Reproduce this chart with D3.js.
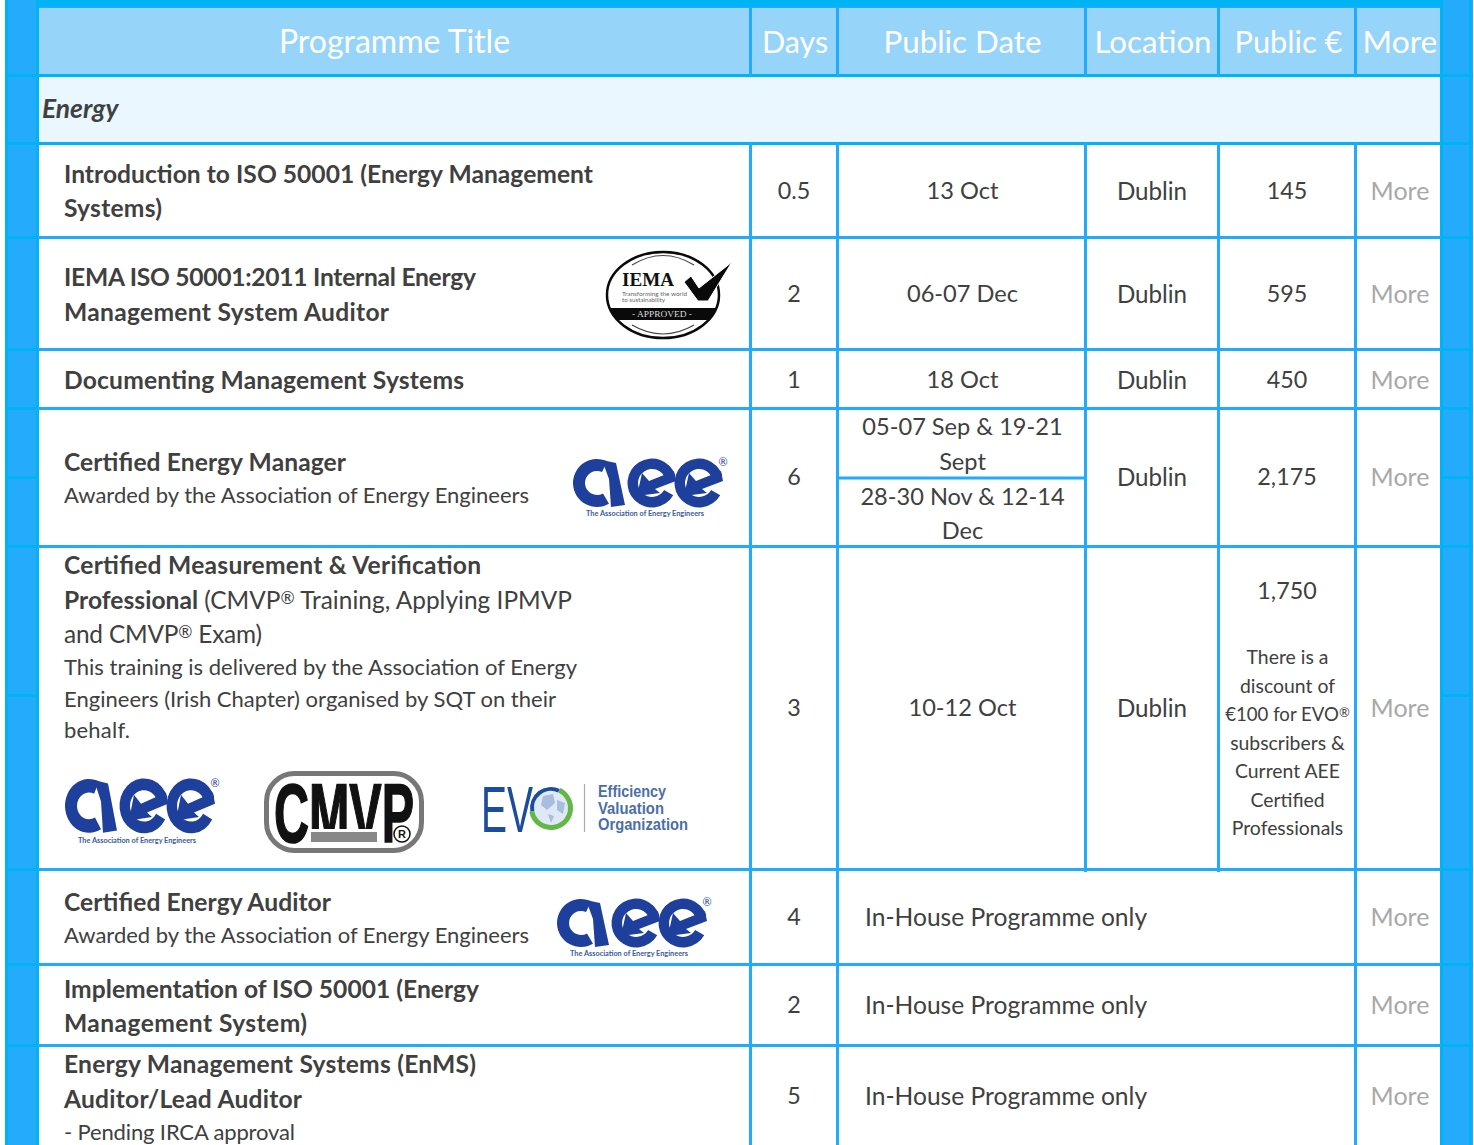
<!DOCTYPE html>
<html><head><meta charset="utf-8">
<script src="https://cdn.jsdelivr.net/npm/d3@7/dist/d3.min.js"></script>
<style>html,body{margin:0;padding:0;background:#fff;overflow:hidden}svg{display:block}text{font-family:Lato,sans-serif}</style>
</head><body><div id="c"></div>
<script>
// ---- data ----
const headers = ["Programme Title","Days","Public Date","Location","Public €","More"];
const category = "Energy";
const titles = [
 [[["b","Introduction to ISO 50001 (Energy Management"]],[["b","Systems)"]]],
 [[["b","IEMA ISO 50001:2011 Internal Energy"]],[["b","Management System Auditor"]]],
 [[["b","Documenting Management Systems"]]],
 [[["b","Certified Energy Manager"]],[["r","Awarded by the Association of Energy Engineers"]]],
 [[["b","Certified Measurement & Verification"]],[["b","Professional "],["r","(CMVP"],["s","®"],["r"," Training, Applying IPMVP"]],[["r","and CMVP"],["s","®"],["r"," Exam)"]],[["r","This training is delivered by the Association of Energy"]],[["r","Engineers (Irish Chapter) organised by SQT on their"]],[["r","behalf."]]],
 [[["b","Certified Energy Auditor"]],[["r","Awarded by the Association of Energy Engineers"]]],
 [[["b","Implementation of ISO 50001 (Energy"]],[["b","Management System)"]]],
 [[["b","Energy Management Systems (EnMS)"]],[["b","Auditor/Lead Auditor"]],[["r","- Pending IRCA approval"]]]
];
const days = ["0.5","2","1","6","3","4","2","5"];
const dates = ["13 Oct","06-07 Dec","18 Oct",null,"10-12 Oct",null,null,null];
const splitDates = ["05-07 Sep & 19-21","Sept","28-30 Nov & 12-14","Dec"];
const locations = ["Dublin","Dublin","Dublin","Dublin","Dublin"];
const fees = ["145","595","450","2,175","1,750"];
const feeNote = [["There is a"],["discount of"],["€100 for EVO","®"],["subscribers &"],["Current AEE"],["Certified"],["Professionals"]];
const inHouse = "In-House Programme only";
const moreLabel = "More";

// ---- layout ----
const W=1474,H=1145;
const LINE="#22aafd",STRIP="#00b3f5",FILL="#24abfc",INK="#404040";
const colEdges=[37.5,750.5,837.5,1085.5,1218.5,1355.5,1441.5];
const x=d3.scaleOrdinal(headers,[394.5,795,962.5,1153,1288.5,1400]);
const headerSize=d3.scaleOrdinal(headers,[32,30.5,31.3,31.2,30.8,31.8]);
const rowLines=[75.5,143.5,237.5,349.5,408.5,546.5,869.5,964.5,1045.5];
const stripOnly=[477.5,695.5];
const titleBase=[[183,217],[286,321],[389],[471,503],[574,609,643,675,707,738],[911,943],[998,1032],[1073,1108,1140]];
const titleEnd=[[593,162],[476,389],[464],[346,529],[481,572,262,577,556,130],[331,529],[479,307],[476,302,295]];
const subLine=[[0,0],[0,0],[0],[0,1],[0,0,0,1,1,1],[0,1],[0,0],[0,0,1]];
const cellBase=[199,302,388,485,716,925,1013,1104];
const splitBase=[435,470,505,539];
const noteBase=[664,693,721,750,778,807,835];

const svg=d3.select("#c").append("svg").attr("width",W).attr("height",H);
const rect=(g,a,b,w,h,f)=>g.append("rect").attr("x",a).attr("y",b).attr("width",w).attr("height",h).attr("fill",f);
const line=(g,a,b,c,d,col,sw=3)=>g.append("line").attr("x1",a).attr("y1",b).attr("x2",c).attr("y2",d).attr("stroke",col).attr("stroke-width",sw);
function txt(g,s,a,b,o={}){const t=g.append("text").attr("x",a).attr("y",b).attr("fill",o.fill||INK)
  .attr("font-size",o.size||23.3).attr("text-anchor",o.anchor||"middle").text(s);
  if(o.weight)t.attr("font-weight",o.weight); if(o.style)t.attr("font-style",o.style);
  if(o.family)t.style("font-family",o.family);
  if(o.len)t.attr("textLength",o.len).attr("lengthAdjust","spacingAndGlyphs");
  return t;}

// background strips
const bg=svg.append("g");
rect(bg,5,0,34,H,FILL); rect(bg,1441,0,32,H,FILL);
rect(bg,38,0,1403,7,STRIP);
rect(bg,38,6.5,1403,2,LINE);
rect(bg,38,8,1403,67,"#97d4fa");
rect(bg,38,76,1403,67,"#eaf7fe");
[[5,3],[36,3],[1440,3],[1469,3]].forEach(([a,w])=>rect(bg,a,0,w,H,STRIP));

// grid
const grid=svg.append("g");
rowLines.forEach(y=>{line(grid,5,y,38,y,STRIP);line(grid,1441,y,1473,y,STRIP);line(grid,38,y,1441,y,y<144?STRIP:LINE);});
stripOnly.forEach(y=>{line(grid,5,y,38,y,STRIP);line(grid,1441,y,1473,y,STRIP);});
line(grid,837,478,1086,478,LINE);
colEdges.slice(1,6).forEach(c=>line(grid,c,8,c,76,LINE));
[colEdges[1],colEdges[2],colEdges[5]].forEach(c=>line(grid,c,143,c,H,LINE));
[colEdges[3],colEdges[4]].forEach(c=>line(grid,c,143,c,872,LINE));

// header
const hd=svg.append("g");
hd.selectAll("text").data(headers).join("text").attr("x",d=>x(d)).attr("y",53)
  .attr("text-anchor","middle").attr("font-size",d=>headerSize(d)).attr("fill","#fff").text(d=>d);
txt(svg,category,42,118,{anchor:"start",weight:700,style:"italic",size:26.4});

// titles
const tg=svg.append("g");
titles.forEach((lines,i)=>lines.forEach((runs,j)=>{
  const base=subLine[i][j]?22:null;
  const t=tg.append("text").attr("x",64).attr("y",titleBase[i][j]).attr("fill",INK)
    .attr("textLength",titleEnd[i][j]-64).attr("lengthAdjust","spacing");
  t.selectAll("tspan").data(runs).join("tspan")
    .attr("font-weight",d=>d[0]==="b"?700:400)
    .attr("font-size",d=>d[0]==="s"?17:(base||(d[0]==="b"?24.6:24.4)))
    .attr("baseline-shift",d=>d[0]==="s"?"5":null)
    .text(d=>d[1]);
}));

// cells
const cg=svg.append("g");
days.forEach((d,i)=>txt(cg,d,x("Days")-1,cellBase[i]));
dates.forEach((d,i)=>{if(d)txt(cg,d,x("Public Date"),cellBase[i],{size:23.6});});
splitDates.forEach((d,i)=>txt(cg,d,x("Public Date"),splitBase[i],{size:23.6}));
locations.forEach((d,i)=>txt(cg,d,x("Location")-1,cellBase[i]+1,{size:24.2}));
fees.forEach((d,i)=>txt(cg,d,x("Public €")-1.5,i===4?599:cellBase[i]));
feeNote.forEach((d,i)=>{
  const t=cg.append("text").attr("x",x("Public €")-1).attr("y",noteBase[i]).attr("fill",INK).attr("font-size",d[1]?18.6:19.4).attr("text-anchor","middle");
  t.append("tspan").text(d[0]);
  if(d[1])t.append("tspan").attr("font-size",13).attr("baseline-shift","4").text(d[1]);
});
[5,6,7].forEach(i=>txt(cg,inHouse,865,cellBase[i]+1,{anchor:"start",size:24.6}));
cellBase.forEach((b,i)=>txt(cg,moreLabel,x("More"),b+1,{fill:"#a8a8a8",size:25}));

// ---- logos ----
const rad=d=>d*Math.PI/180, BLUE="#1e409c";
function aee(px,py,sy=1){
  const g=svg.append("g").attr("transform",`translate(${px},${py}) scale(1,${sy})`);
  const arc=d3.arc();
  const ring=(cx,cy,r0,r1,a,b)=>g.append("path").attr("transform",`translate(${cx},${cy})`).attr("fill",BLUE)
    .attr("d",arc({innerRadius:r0,outerRadius:r1,startAngle:rad(a),endAngle:rad(b)}));
  ring(25,24,12,24,25,-210);
  g.append("path").attr("fill",BLUE).attr("d","M30,1L44,4L53,46L39,48L37,20Z");
  [80,127].forEach(c=>{
    ring(c,24,14,24.5,72,-240);
    g.append("path").attr("fill",BLUE).attr("transform",`translate(${c},24)`)
      .attr("d","M22,-12L24,-2L3,6L8,10L-15,13L-10,-10L-3,-2Z");
  });
  g.append("text").attr("x",151).attr("y",7).attr("font-size",11).attr("text-anchor","middle").attr("fill",BLUE).text("®");
  g.append("text").attr("x",73).attr("y",57).attr("font-size",7.2).attr("text-anchor","middle").attr("fill","#3a5a9c")
    .attr("font-weight",700).attr("textLength",118).attr("lengthAdjust","spacingAndGlyphs").text("The Association of Energy Engineers");
}
aee(572,459); aee(64,779,1.12); aee(556,899);

// IEMA
const ie=svg.append("g");
const clip=svg.append("clipPath").attr("id","ec");
clip.append("ellipse").attr("cx",663).attr("cy",295).attr("rx",56).attr("ry",43);
ie.append("ellipse").attr("cx",663).attr("cy",295).attr("rx",56).attr("ry",43).attr("fill","#fff").attr("stroke","#0a0a0a").attr("stroke-width",2.5);
ie.append("path").attr("fill","none").attr("stroke","#444").attr("stroke-width",1.2).attr("d","M632,265Q663,246 694,265M632,325Q663,343 694,325");
rect(ie,600,308,126,12,"#0a0a0a").attr("clip-path","url(#ec)");
txt(ie,"IEMA",622,286,{anchor:"start",size:19,weight:700,family:"Liberation Serif",fill:"#111",len:52});
txt(ie,"Transforming the world",622,295.5,{anchor:"start",size:6,fill:"#666",len:65});
txt(ie,"to sustainability",622,301.5,{anchor:"start",size:6,fill:"#666",len:43});
txt(ie,"- APPROVED -",662,317,{size:8.5,family:"Liberation Serif",fill:"#ddd",len:60});
ie.append("path").attr("fill","#0a0a0a").attr("stroke","#fff").attr("stroke-width",1)
  .attr("d","M684,282L691,276L699,288L732,262L708,301L698,301Z");

// CMVP
const cm=svg.append("g");
cm.append("rect").attr("x",266.5).attr("y",773.5).attr("width",155).attr("height",77).attr("rx",28).attr("fill","#fff").attr("stroke","#777").attr("stroke-width",5);
txt(cm,"CMVP",0,0,{anchor:"start",size:84,weight:700,fill:"#111",family:"Liberation Sans"})
  .attr("transform","translate(274,842) scale(0.577,1)").attr("stroke","#111").attr("stroke-width",1.6);
rect(cm,311,829,67,15,"#fff");
rect(cm,311,832,66,10,"#888");
cm.append("circle").attr("cx",402).attr("cy",834).attr("r",8).attr("fill","#fff").attr("stroke","#111").attr("stroke-width",1.5);
txt(cm,"R",402,838,{size:11,weight:700,fill:"#111",family:"Liberation Sans"});

// EVO
const ev=svg.append("g"), E="#1c4c9e";
txt(ev,"EV",481,832,{anchor:"start",size:65,fill:E,family:"Liberation Sans",len:52});
const ea=d3.arc();
ev.append("circle").attr("cx",551).attr("cy",808).attr("r",17).attr("fill","#dfe8f5");
ev.append("path").attr("transform","translate(551,808)").attr("fill","#a9bde0").attr("d","M-8,-12L2,-14L4,-5L-4,2L-10,-3ZM6,-8L14,-5L12,6L6,2ZM-3,6L3,8L0,15Z");
ev.append("path").attr("transform","translate(551,808)").attr("fill",E).attr("d",ea({innerRadius:17,outerRadius:21,startAngle:rad(-100),endAngle:rad(25)}));
ev.append("path").attr("transform","translate(551,808)").attr("fill","#62b846").attr("d",ea({innerRadius:17,outerRadius:22,startAngle:rad(25),endAngle:rad(260)}));
line(ev,584.5,784,584.5,832,"#aaa",1.2);
[["Efficiency",797,68],["Valuation",813.5,66],["Organization",830,90]].forEach(([s,b,l])=>
  txt(ev,s,598,b,{anchor:"start",size:16.5,weight:700,fill:"#4b6ea8",family:"Liberation Sans",len:l}));
</script></body></html>
